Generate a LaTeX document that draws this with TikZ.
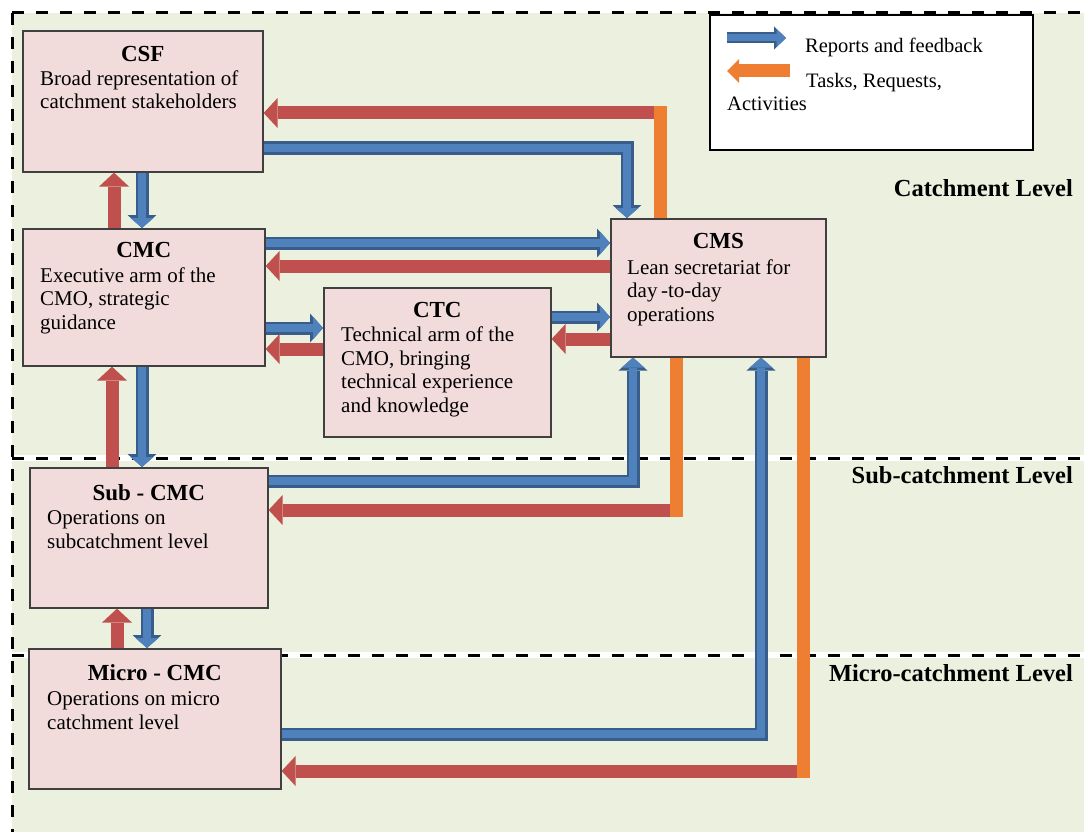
\documentclass[tikz,border=0pt]{standalone}
\usepackage{fontspec}
\setmainfont{Liberation Serif}
\usetikzlibrary{arrows.meta}

\definecolor{bgGreen}{HTML}{EBF1DE}
\definecolor{boxPink}{HTML}{F2DCDB}
\definecolor{boxLine}{HTML}{404040}
\definecolor{rptBlue}{HTML}{4F81BD}
\definecolor{rptEdge}{HTML}{385D8A}
\definecolor{taskRed}{HTML}{C0504D}
\definecolor{taskOrange}{HTML}{EE7E32}

% a report arrow: dark edge underneath, lighter blue on top
\newcommand{\rptpath}[1]{\draw[rptouter] #1; \draw[rptinner] #1;}

\begin{document}
\begin{tikzpicture}[x=1pt,y=-1pt,
  orgbox/.style={draw=boxLine, line width=1.6pt, fill=boxPink, inner sep=0pt, anchor=north west},
  boxtitle/.style={anchor=base, inner sep=0pt, font=\fontsize{23}{27}\selectfont\bfseries},
  % multi-line bodies are placed by the baseline of their last line
  boxbody/.style={anchor=base west, align=left, inner sep=0pt, font=\fontsize{21}{23.5}\selectfont},
  levelname/.style={anchor=base east, inner sep=0pt, font=\fontsize{24.5}{28}\selectfont\bfseries},
  legendtext/.style={anchor=base west, inner sep=0pt, font=\fontsize{20.5}{24}\selectfont},
  rptouter/.style={draw=rptEdge, line width=13pt, line join=miter,
    -{Triangle[length=13pt,width=29pt,line width=0pt]}},
  rptinner/.style={draw=rptBlue, line width=8.5pt, line join=miter,
    -{Triangle[length=10pt,width=23pt,line width=0pt]}},
  taskarrow/.style={draw=taskRed, line width=13pt,
    -{Triangle[length=14pt,width=30pt,line width=0pt]}},
  taskstem/.style={draw=taskOrange, line width=13pt},
  levelrule/.style={draw=black, line width=3pt, dash pattern=on 12pt off 12pt},
  levelglow/.style={draw=white, line width=6pt},
]
\useasboundingbox (0,0) rectangle (1084,832);
\fill[white] (0,0) rectangle (1084,832);
\fill[bgGreen] (12,13) rectangle (1084,832);

% level separators
\draw[levelglow] (12,458) -- (1084,458);
\draw[levelglow] (12,655) -- (1084,655);
\draw[levelrule] (12,13) -- (1084,13);
\draw[levelrule] (12,13) -- (12,832);
\draw[levelrule] (12,458) -- (1084,458);
\draw[levelrule] (12,655) -- (1084,655);

% level names
\node[levelname] (lvcatch) at (1073,196) {Catchment Level};
\node[levelname] (lvsub) at (1073,483) {Sub-catchment Level};
\node[levelname] (lvmicro) at (1073,681) {Micro-catchment Level};

% legend
\node[draw=black, line width=1.6pt, fill=white, anchor=north west, inner sep=0pt,
      minimum width=323pt, minimum height=135pt] (legend) at (709,14) {};
\coordinate (lgRa) at (727,38);
\coordinate (lgRb) at (786,38);
\coordinate (lgTa) at (790,71);
\coordinate (lgTb) at (727,71);
\draw[draw=rptEdge, line width=11pt, -{Triangle[length=12pt,width=23pt,line width=0pt]}] (lgRa) -- (lgRb);
\draw[draw=rptBlue, line width=7pt, -{Triangle[length=9.5pt,width=18pt,line width=0pt]}] (lgRa) -- (lgRb);
\draw[draw=taskOrange, line width=13pt, -{Triangle[length=12pt,width=24pt,line width=0pt]}] (lgTa) -- (lgTb);
\node[legendtext] (lgR) at (805,53) {Reports and feedback};
\node[legendtext] (lgT) at (806,88) {Tasks, Requests,};
\node[legendtext] (lgT2) at (727,111) {Activities};

% organisation boxes
\node[orgbox, minimum width=240pt, minimum height=141pt] (csf) at (22,30) {};
\node[orgbox, minimum width=242pt, minimum height=137pt] (cmc) at (22,228) {};
\node[orgbox, minimum width=227pt, minimum height=149pt] (ctc) at (323,287) {};
\node[orgbox, minimum width=215pt, minimum height=138pt] (cms) at (610,218) {};
\node[orgbox, minimum width=238pt, minimum height=140pt] (sub) at (29,467) {};
\node[orgbox, minimum width=252pt, minimum height=140pt] (micro) at (28,648) {};

\node[boxtitle] (csfT) at (csf.center |- 0,62) {CSF};
\node[boxbody] (csfB) at (40,109) {Broad representation of\\catchment stakeholders};
\node[boxtitle] (cmcT) at (cmc.center |- 0,257) {CMC};
\node[boxbody] (cmcB) at (40,329) {Executive arm of the\\CMO, strategic\\guidance};
\node[boxtitle] (ctcT) at (ctc.center |- 0,317) {CTC};
\node[boxbody] (ctcB) at (341,412) {Technical arm of the\\CMO, bringing\\technical experience\\and knowledge};
\node[boxtitle] (cmsT) at (cms.center |- 0,248) {CMS};
\node[boxbody] (cmsB) at (627,321) {Lean secretariat for\\day\,-to-day\\operations};
\node[boxtitle] (subT) at (sub.center |- 0,500) {Sub - CMC};
\node[boxbody] (subB) at (47,548) {Operations on\\subcatchment level};
\node[boxtitle] (microT) at (micro.center |- 0,680) {Micro - CMC};
\node[boxbody] (microB) at (47,729) {Operations on micro\\catchment level};

% tasks from CMS, leaving upward / downward in orange
\coordinate (k1) at (660,113);
\coordinate (k2) at (676,510);
\coordinate (k3) at (803,771);
\draw[taskarrow] (k1) -- (csf.east |- k1);
\draw[taskstem] (cms.north -| k1) -- ([yshift=6.5pt]k1);
\draw[taskarrow] (k2) -- (sub.east |- k2);
\draw[taskstem] (cms.south -| k2) -- ([yshift=-6.5pt]k2);
\draw[taskarrow] (k3) -- (micro.east |- k3);
\draw[taskstem] (cms.south -| k3) -- ([yshift=-6.5pt]k3);

% reports to CMS
\rptpath{(csf.east |- 0,148) -| (cms.north -| 627,0)}
\rptpath{(sub.east |- 0,481) -| (cms.south -| 633,0)}
\rptpath{(micro.east |- 0,734) -| (cms.south -| 761,0)}

% CSF <-> CMC
\rptpath{(csf.south -| 142,0) -- (cmc.north -| 142,0)}
\draw[taskarrow] (cmc.north -| 114,0) -- (csf.south -| 114,0);

% CMC <-> CMS
\rptpath{(cmc.east |- 0,243) -- (cms.west |- 0,243)}
\draw[taskarrow] (cms.west |- 0,266) -- (cmc.east |- 0,266);

% CMC <-> CTC
\rptpath{(cmc.east |- 0,328) -- (ctc.west |- 0,328)}
\draw[taskarrow] (ctc.west |- 0,349) -- (cmc.east |- 0,349);

% CTC <-> CMS
\rptpath{(ctc.east |- 0,317) -- (cms.west |- 0,317)}
\draw[taskarrow] (cms.west |- 0,339) -- (ctc.east |- 0,339);

% CMC <-> Sub-CMC
\rptpath{(cmc.south -| 142,0) -- (sub.north -| 142,0)}
\draw[taskarrow] (sub.north -| 112,0) -- (cmc.south -| 112,0);

% Sub-CMC <-> Micro-CMC
\rptpath{(sub.south -| 147,0) -- (micro.north -| 147,0)}
\draw[taskarrow] (micro.north -| 117,0) -- (sub.south -| 117,0);
\end{tikzpicture}
\end{document}
